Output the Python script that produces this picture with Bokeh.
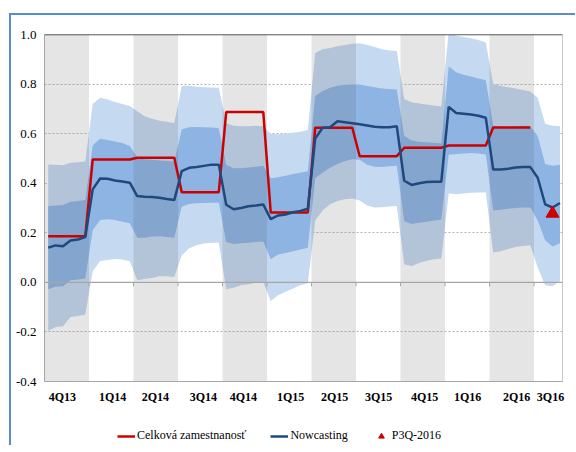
import numpy as np
from bokeh.plotting import figure
from bokeh.layouts import column, row
from bokeh.models import (Range1d, FixedTicker, PrintfTickFormatter, Span, Legend,
                          LegendItem, Div, Spacer)
from bokeh.embed import file_html
from bokeh.resources import INLINE

# ---------------- data ----------------
quarters = ["4Q13", "1Q14", "2Q14", "3Q14", "4Q14", "1Q15", "2Q15", "3Q15",
            "4Q15", "1Q16", "2Q16", "3Q16"]
points_per_quarter = [6, 6, 6, 6, 6, 6, 6, 6, 6, 6, 6, 4]
label_pos = [0.40, 1.53, 2.49, 3.57, 4.47, 5.53, 6.52, 7.51, 8.54, 9.51, 10.61, 11.37]

# actual total employment growth (one value per quarter, 4Q13..2Q16)
employment = [0.186, 0.496, 0.503, 0.364, 0.687, 0.282, 0.624, 0.509, 0.543, 0.552, 0.625]

nowcast = [0.140, 0.149, 0.146, 0.169, 0.173, 0.183,
           0.375, 0.419, 0.418, 0.411, 0.407, 0.402,
           0.348, 0.345, 0.344, 0.341, 0.336, 0.332,
           0.449, 0.462, 0.465, 0.470, 0.475, 0.475,
           0.313, 0.295, 0.300, 0.307, 0.310, 0.314,
           0.255, 0.270, 0.274, 0.283, 0.288, 0.297,
           0.580, 0.624, 0.626, 0.650, 0.646, 0.642,
           0.638, 0.633, 0.628, 0.626, 0.626, 0.630,
           0.410, 0.393, 0.400, 0.405, 0.406, 0.406,
           0.708, 0.683, 0.680, 0.677, 0.672, 0.664,
           0.455, 0.455, 0.458, 0.463, 0.465, 0.465,
           0.422, 0.315, 0.302, 0.320]

outer_hi = [0.476, 0.475, 0.472, 0.483, 0.485, 0.488,
            0.720, 0.745, 0.738, 0.728, 0.720, 0.712,
            0.690, 0.670, 0.660, 0.652, 0.648, 0.643,
            0.792, 0.793, 0.789, 0.787, 0.786, 0.785,
            0.642, 0.632, 0.630, 0.630, 0.632, 0.630,
            0.600, 0.598, 0.601, 0.604, 0.608, 0.615,
            0.925, 0.940, 0.946, 0.953, 0.958, 0.963,
            0.965, 0.958, 0.950, 0.940, 0.935, 0.933,
            0.740, 0.727, 0.722, 0.718, 0.714, 0.710,
            1.010, 0.995, 0.990, 0.985, 0.978, 0.968,
            0.800, 0.792, 0.787, 0.782, 0.776, 0.770,
            0.745, 0.640, 0.632, 0.630]

inner_hi = [0.308, 0.310, 0.312, 0.325, 0.328, 0.332,
            0.553, 0.579, 0.574, 0.568, 0.562, 0.550,
            0.505, 0.497, 0.495, 0.492, 0.490, 0.488,
            0.617, 0.626, 0.627, 0.626, 0.625, 0.622,
            0.475, 0.460, 0.460, 0.463, 0.466, 0.470,
            0.420, 0.424, 0.430, 0.437, 0.442, 0.448,
            0.752, 0.772, 0.785, 0.793, 0.797, 0.798,
            0.798, 0.792, 0.787, 0.782, 0.780, 0.778,
            0.590, 0.572, 0.567, 0.565, 0.563, 0.560,
            0.872, 0.848, 0.838, 0.831, 0.822, 0.815,
            0.632, 0.628, 0.628, 0.630, 0.632, 0.630,
            0.590, 0.478, 0.470, 0.475]

inner_lo = [-0.028, -0.018, -0.016, 0.008, 0.012, 0.016,
            0.210, 0.252, 0.255, 0.252, 0.245, 0.238,
            0.180, 0.180, 0.185, 0.186, 0.183, 0.180,
            0.305, 0.316, 0.319, 0.320, 0.321, 0.321,
            0.163, 0.155, 0.158, 0.160, 0.163, 0.165,
            0.093, 0.112, 0.118, 0.126, 0.133, 0.140,
            0.420, 0.443, 0.462, 0.478, 0.490, 0.497,
            0.495, 0.475, 0.466, 0.465, 0.468, 0.470,
            0.247, 0.235, 0.240, 0.245, 0.250, 0.254,
            0.515, 0.518, 0.520, 0.522, 0.520, 0.516,
            0.290, 0.293, 0.297, 0.300, 0.302, 0.302,
            0.250, 0.170, 0.145, 0.158]

outer_lo = [-0.195, -0.180, -0.177, -0.140, -0.136, -0.130,
            0.045, 0.086, 0.090, 0.094, 0.092, 0.085,
            0.008, 0.014, 0.018, 0.025, 0.025, 0.022,
            0.108, 0.138, 0.150, 0.157, 0.160, 0.160,
            -0.028, -0.022, -0.012, -0.008, -0.002, 0.000,
            -0.075, -0.052, -0.038, -0.025, -0.012, -0.004,
            0.250, 0.290, 0.315, 0.328, 0.335, 0.338,
            0.330, 0.310, 0.302, 0.303, 0.306, 0.308,
            0.073, 0.066, 0.078, 0.087, 0.093, 0.096,
            0.360, 0.355, 0.358, 0.362, 0.363, 0.363,
            0.120, 0.126, 0.135, 0.143, 0.147, 0.150,
            0.060, -0.012, -0.016, 0.005]

p3q_value = 0.278
p3q_index = 68          # third nowcast of 3Q16

yticks = [-0.4, -0.2, 0.0, 0.2, 0.4, 0.6, 0.8, 1.0]

# ---------------- positions ----------------
x = []
for q, n in enumerate(points_per_quarter):
    for k in range(n):
        x.append(q + (k + 0.5) / 6.0)
x = np.array(x)
n_emp = 6 * len(employment)
emp_x = x[:n_emp]
emp_y = np.repeat(employment, 6)

band_left = [i for i in range(0, len(quarters) - 1, 2)]
band_right = [i + 1 for i in band_left]
boundaries = list(range(1, len(quarters)))

SERIF = "Liberation Serif"
RED = "#cc0000"
NAVY = "#1f497d"
FRAME_BLUE = "#5b8bd0"

# ---------------- main chart ----------------
p1 = figure(frame_width=518, frame_height=347,
            x_range=Range1d(0, 11.64), y_range=Range1d(-0.4, 1.0),
            output_backend="svg", toolbar_location=None,
            min_border_left=33, min_border_top=19, min_border_right=5, min_border_bottom=28)
p1.background_fill_color = "white"
p1.border_fill_color = "white"
p1.outline_line_color = "#c8c8c8"

# fan bands (opaque, over the dashed grid)
p1.varea(x=x, y1=outer_lo, y2=outer_hi, fill_color="#c5d9f1", fill_alpha=1)
p1.varea(x=x, y1=inner_lo, y2=inner_hi, fill_color="#8eb4e3", fill_alpha=1)

# translucent grey quarter bands on top of the fans
p1.quad(left=band_left, right=band_right, bottom=-0.4, top=1.0,
        fill_color="#505050", fill_alpha=0.15, line_color=None)

# axes
p1.xaxis.ticker = FixedTicker(ticks=label_pos)
p1.xaxis.major_label_overrides = {lp: q for lp, q in zip(label_pos, quarters)}
p1.xaxis.major_tick_line_color = None
p1.xaxis.major_tick_out = 0
p1.xaxis.major_tick_in = 0
p1.xaxis.minor_tick_line_color = None
p1.xaxis.axis_line_color = "#a6a6a6"
p1.xaxis.major_label_text_font = SERIF
p1.xaxis.major_label_text_font_style = "bold"
p1.xaxis.major_label_text_font_size = "12px"
p1.xaxis.major_label_text_color = "#000000"
p1.xaxis.major_label_standoff = 8
p1.xgrid.visible = False

p1.yaxis.ticker = FixedTicker(ticks=yticks)
p1.yaxis.formatter = PrintfTickFormatter(format="%.1f")
p1.yaxis.major_tick_line_color = None
p1.yaxis.major_tick_out = 0
p1.yaxis.major_tick_in = 0
p1.yaxis.minor_tick_line_color = None
p1.yaxis.axis_line_color = "#a6a6a6"
p1.yaxis.major_label_text_font = SERIF
p1.yaxis.major_label_text_font_size = "13px"
p1.yaxis.major_label_text_color = "#000000"
p1.yaxis.major_label_standoff = 8
p1.ygrid.ticker = FixedTicker(ticks=yticks)
p1.ygrid.grid_line_color = "#b4b4b4"
p1.ygrid.grid_line_dash = "2 2"
p1.ygrid.grid_line_width = 1

# zero line with quarter ticks, dark top border
p1.add_layout(Span(location=0, dimension="width", line_color="#a6a6a6", line_width=1.3))
p1.add_layout(Span(location=1.0, dimension="width", line_color="#404040", line_width=1.5))
p1.segment(x0=boundaries, y0=0, x1=boundaries, y1=-0.016, line_color="#a6a6a6", line_width=1)

# series
p1.line(emp_x, emp_y, line_color=RED, line_width=2.5)
p1.line(x, nowcast, line_color=NAVY, line_width=2.5)
p1.scatter(x=[x[p3q_index]], y=[p3q_value], marker="triangle", size=13,
           fill_color=RED, line_color=RED)

# ---------------- legend strip ----------------
p2 = figure(frame_width=518, frame_height=36, x_range=Range1d(0, 1), y_range=Range1d(0, 1),
            output_backend="svg", toolbar_location=None,
            x_axis_location=None, y_axis_location=None,
            min_border_left=33, min_border_right=5, min_border_top=0, min_border_bottom=0)
p2.outline_line_color = None
p2.grid.visible = False
p2.background_fill_color = "white"
p2.border_fill_color = "white"
l_emp = p2.line([-5, -4], [-5, -5], line_color=RED, line_width=2.5)
l_now = p2.line([-5, -4], [-5, -5], line_color=NAVY, line_width=2.5)
l_p3q = p2.scatter([-5], [-5], marker="triangle", size=9, fill_color=RED, line_color=RED)

legend = Legend(items=[LegendItem(label="Celková zamestnanosť", renderers=[l_emp]),
                       LegendItem(label="Nowcasting", renderers=[l_now]),
                       LegendItem(label="P3Q-2016", renderers=[l_p3q])],
                orientation="horizontal", location=(73, 2),
                glyph_width=18, glyph_height=14, label_height=14,
                padding=0, margin=0, spacing=24, label_standoff=2,
                border_line_color=None, background_fill_alpha=0,
                label_text_font=SERIF, label_text_font_size="12px",
                label_text_color="#000000")
p2.add_layout(legend, "center")

# ---------------- outer blue frame (top and left edges) ----------------
top_bar = Div(text="", width=566, height=2, margin=0,
              styles={"background-color": FRAME_BLUE})
left_bar = Div(text="", width=2, height=430, margin=0,
               styles={"background-color": FRAME_BLUE})
inner = column(p1, p2, spacing=0, margin=0)
framed = column(top_bar, row(left_bar, inner, spacing=0, margin=0), spacing=0, margin=0)
p = column(Spacer(width=10, height=13, margin=0),
           row(Spacer(width=9, height=10, margin=0), framed, spacing=0, margin=0),
           spacing=0, margin=0)

open("out.html", "w").write(file_html(p, INLINE))
